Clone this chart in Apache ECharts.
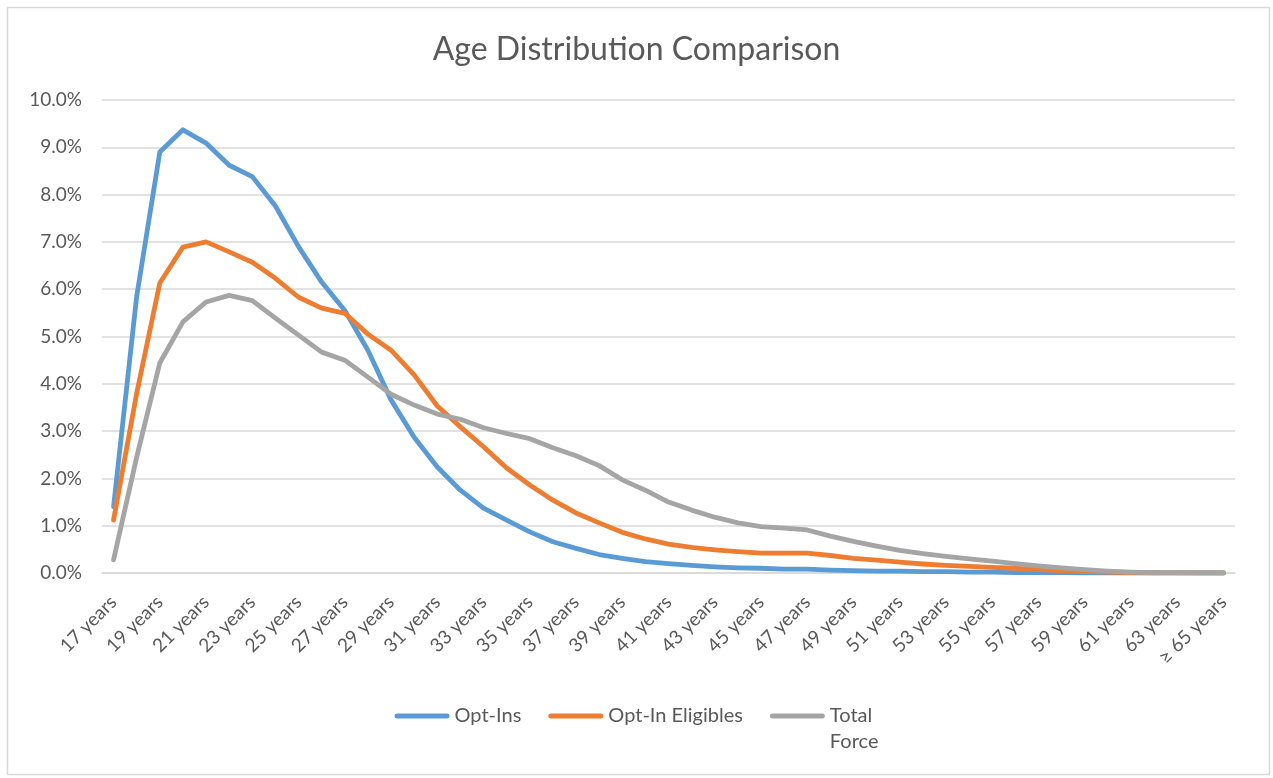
<!DOCTYPE html>
<html>
<head>
<meta charset="utf-8">
<title>Age Distribution Comparison</title>
<script src="https://cdn.jsdelivr.net/npm/echarts@6/dist/echarts.min.js"></script>
<style>
  html, body { margin: 0; padding: 0; background: #ffffff; }
  #chart { width: 1273px; height: 778px; }
</style>
</head>
<body>
<div id="chart"></div>
<script>
// Age buckets shown on the horizontal axis
const ageCategories = [
  '17 years', '18 years', '19 years', '20 years', '21 years', '22 years', '23 years',
  '24 years', '25 years', '26 years', '27 years', '28 years', '29 years', '30 years',
  '31 years', '32 years', '33 years', '34 years', '35 years', '36 years', '37 years',
  '38 years', '39 years', '40 years', '41 years', '42 years', '43 years', '44 years',
  '45 years', '46 years', '47 years', '48 years', '49 years', '50 years', '51 years',
  '52 years', '53 years', '54 years', '55 years', '56 years', '57 years', '58 years',
  '59 years', '60 years', '61 years', '62 years', '63 years', '64 years', '≥ 65 years'
];

// Share of each group at each age, in percent
const optIns = [
  1.40, 5.85, 8.90, 9.37, 9.09, 8.62, 8.38, 7.76, 6.90, 6.15,
  5.55, 4.71, 3.66, 2.87, 2.24, 1.75, 1.37, 1.12, 0.87, 0.66,
  0.52, 0.39, 0.31, 0.24, 0.20, 0.16, 0.13, 0.11, 0.10, 0.08,
  0.08, 0.06, 0.05, 0.04, 0.04, 0.03, 0.03, 0.02, 0.02, 0.01,
  0.01, 0.01, 0.00, 0.00, 0.00, 0.00, 0.00, 0.00, 0.00
];

const optInEligibles = [
  1.12, 3.80, 6.13, 6.89, 7.00, 6.79, 6.57, 6.23, 5.83, 5.60,
  5.49, 5.05, 4.71, 4.19, 3.53, 3.09, 2.67, 2.22, 1.86, 1.54,
  1.27, 1.06, 0.86, 0.72, 0.61, 0.54, 0.49, 0.45, 0.42, 0.42,
  0.42, 0.37, 0.31, 0.27, 0.23, 0.19, 0.16, 0.14, 0.12, 0.10,
  0.07, 0.05, 0.03, 0.02, 0.01, 0.00, 0.00, 0.00, 0.00
];

const totalForce = [
  0.28, 2.45, 4.44, 5.31, 5.73, 5.87, 5.76, 5.39, 5.03, 4.67,
  4.50, 4.14, 3.78, 3.55, 3.36, 3.25, 3.07, 2.95, 2.84, 2.65,
  2.48, 2.27, 1.97, 1.75, 1.50, 1.33, 1.18, 1.06, 0.98, 0.95,
  0.91, 0.78, 0.67, 0.57, 0.48, 0.41, 0.35, 0.30, 0.25, 0.20,
  0.15, 0.11, 0.07, 0.04, 0.02, 0.01, 0.01, 0.00, 0.00
];

const seriesNames = ['Opt-Ins', 'Opt-In Eligibles', 'Total Force'];
const seriesColors = ['#5B9BD5', '#ED7D31', '#A5A5A5'];

const FONT = 'Lato, "Open Sans", sans-serif';
const TEXT_COLOR = '#595959';
const GRID_COLOR = '#d9d9d9';

// Capsule-shaped legend swatch (a thick line with rounded ends)
const LEGEND_ICON = 'path://M2.5,0 L52.5,0 A2.5,2.5 0 0 1 52.5,5 L2.5,5 A2.5,2.5 0 0 1 2.5,0 Z';

const chart = echarts.init(document.getElementById('chart'), null, { renderer: 'canvas' });

function lineSeries(name, data, color) {
  return {
    name: name,
    type: 'line',
    data: data,
    symbol: 'none',
    smooth: false,
    lineStyle: { color: color, width: 4.8, cap: 'round', join: 'round' },
    itemStyle: { color: color },
    emphasis: { disabled: true }
  };
}

const option = {
  animation: false,
  backgroundColor: '#ffffff',
  textStyle: { fontFamily: FONT },
  graphic: [{
    type: 'rect',
    left: 5, top: 5,
    shape: { width: 1262, height: 767 },
    style: { fill: 'none', stroke: GRID_COLOR, lineWidth: 1.5 },
    silent: true
  }],
  title: {
    text: 'Age Distribution Comparison',
    left: 'center',
    top: 29,
    textStyle: { fontFamily: FONT, fontSize: 32, fontWeight: 'normal', color: TEXT_COLOR }
  },
  grid: { left: 102, right: 38, top: 100, bottom: 205, containLabel: false },
  xAxis: {
    type: 'category',
    data: ageCategories,
    boundaryGap: true,
    axisLine: { show: true, lineStyle: { color: GRID_COLOR, width: 1.5 } },
    axisTick: { show: false },
    axisLabel: {
      interval: 1,
      rotate: 45,
      margin: 26,
      fontFamily: FONT,
      fontSize: 19,
      color: TEXT_COLOR
    },
    splitLine: { show: false }
  },
  yAxis: {
    type: 'value',
    min: 0,
    max: 10,
    interval: 1,
    axisLine: { show: false },
    axisTick: { show: false },
    axisLabel: {
      margin: 20,
      fontFamily: FONT,
      fontSize: 19,
      color: TEXT_COLOR,
      formatter: v => v.toFixed(1) + '%'
    },
    splitLine: { show: true, lineStyle: { color: GRID_COLOR, width: 1.5 } }
  },
  legend: {
    left: 'center',
    top: 677,
    padding: 0,
    icon: LEGEND_ICON,
    itemWidth: 55,
    itemHeight: 5,
    itemGap: 27,
    textStyle: { fontFamily: FONT, fontSize: 20, color: TEXT_COLOR, lineHeight: 26 },
    // the last entry wraps onto two lines, first line level with its swatch
    formatter: name => name === 'Total Force' ? '\nTotal\nForce' : name,
    data: seriesNames
  },
  series: [
    lineSeries(seriesNames[0], optIns, seriesColors[0]),
    lineSeries(seriesNames[1], optInEligibles, seriesColors[1]),
    lineSeries(seriesNames[2], totalForce, seriesColors[2])
  ]
};

chart.setOption(option);
</script>
</body>
</html>
